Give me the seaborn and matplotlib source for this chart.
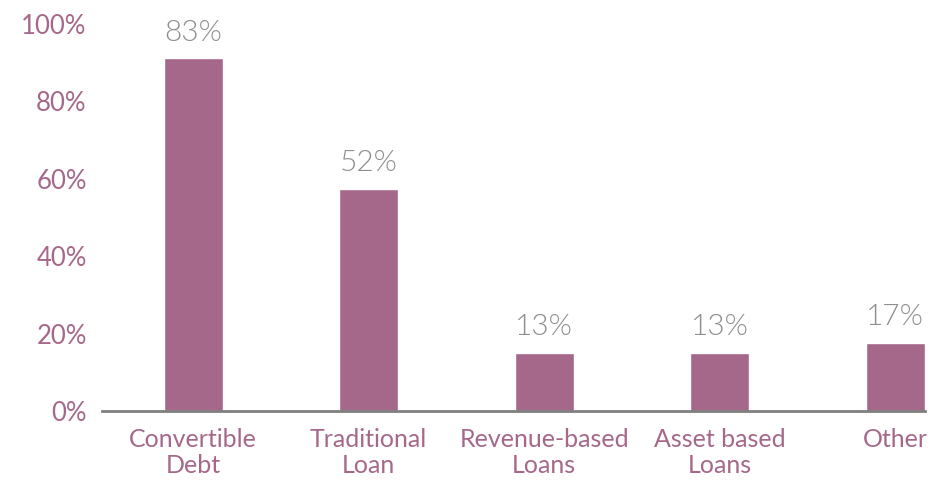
import matplotlib
matplotlib.use("Agg")
import matplotlib.pyplot as plt
import seaborn as sns
import pandas as pd

# --- Datos ---
categories = ["Convertible\nDebt", "Traditional\nLoan", "Revenue-based\nLoans",
              "Asset based\nLoans", "Other"]
bar_heights = [91.2, 57.4, 15.0, 15.0, 17.6]
value_labels = ["83%", "52%", "13%", "13%", "17%"]  # etiquetas impresas
y_ticks = [0, 20, 40, 60, 80, 100]

purple = "#A6688A"
grey_txt = "#8E8E8E"
axis_grey = "#7F7F7F"

sns.set_theme(style="white")
plt.rcParams["font.family"] = ["Lato", "DejaVu Sans"]

df = pd.DataFrame({"cat": categories, "h": bar_heights})

fig = plt.figure(figsize=(9.51, 4.80), dpi=100)
ax = fig.add_axes([102 / 951, 1 - 411 / 480, (925 - 102) / 951, (411 - 24) / 480])
sns.barplot(data=df, x="cat", y="h", color=purple, width=0.336, saturation=1, ax=ax)

for i, (h, lab) in enumerate(zip(bar_heights, value_labels)):
    ax.annotate(lab, (i, h), xytext=(0, 9), textcoords="offset points",
                ha="center", va="bottom", fontsize=21.5, color=grey_txt,
                fontweight=300, annotation_clip=False)

ax.set_ylim(0, 100)
ax.set_xlim(-0.52, 4.17)
ax.set_yticks(y_ticks)
ax.set_yticklabels([f"{t}%" for t in y_ticks])
ax.set_xlabel("")
ax.set_ylabel("")
for s in ["top", "right", "left"]:
    ax.spines[s].set_visible(False)
ax.spines["bottom"].set_color(axis_grey)
ax.spines["bottom"].set_linewidth(2)
ax.tick_params(axis="y", length=0, pad=11, labelsize=18.5, labelcolor=purple)
ax.tick_params(axis="x", length=0, pad=12, labelsize=18, labelcolor=purple)
for t in ax.get_xticklabels():
    t.set_linespacing(1.2)

fig.savefig("out.png", dpi=100)
plt.close(fig)
